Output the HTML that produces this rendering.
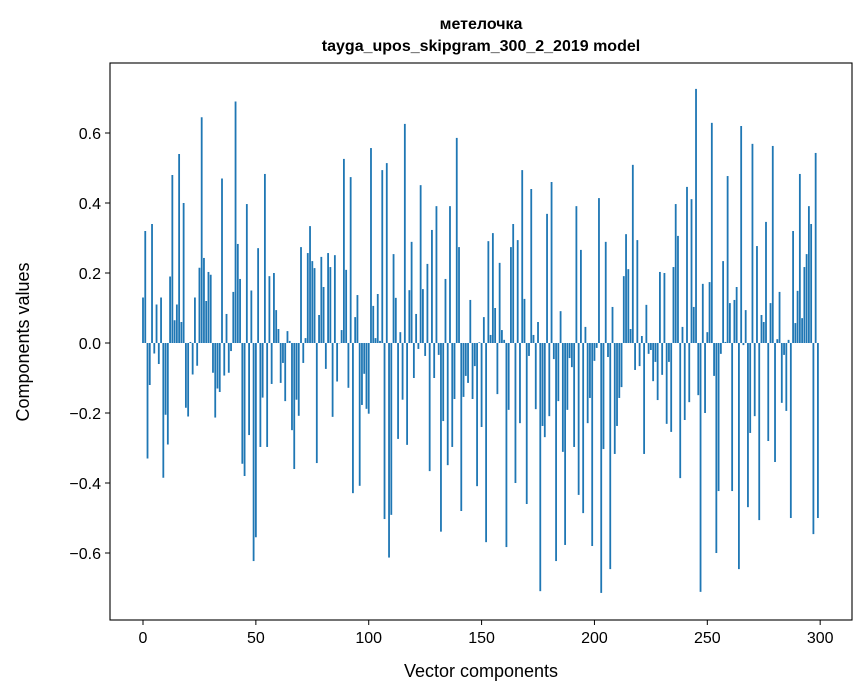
<!DOCTYPE html>
<html><head><meta charset="utf-8"><style>
body{margin:0;background:#fff;}
svg{display:block;font-family:"Liberation Sans","DejaVu Sans",sans-serif;}
</style></head><body>
<svg id="chart" width="867" height="696" viewBox="0 0 867 696" xmlns="http://www.w3.org/2000/svg">
<rect width="867" height="696" fill="#fff"/>
<text x="481" y="29" text-anchor="middle" font-size="16" font-weight="bold">метелочка</text>
<text x="481" y="51" text-anchor="middle" font-size="16" font-weight="bold">tayga_upos_skipgram_300_2_2019 model</text>
<g id="bars"></g>
<g id="axes"></g>
<text x="481" y="677" text-anchor="middle" font-size="18">Vector components</text>
<text transform="translate(29,342) rotate(-90)" text-anchor="middle" font-size="18">Components values</text>
</svg>
<script>
const values = [0.13,0.32,-0.33,-0.12,0.34,-0.03,0.11,-0.06,0.13,-0.385,
-0.205,-0.29,0.19,0.48,0.065,0.11,0.54,0.06,0.40,-0.185,
-0.21,0.003,-0.09,0.13,-0.065,0.215,0.645,0.243,0.12,0.203,
0.195,-0.085,-0.213,-0.13,-0.14,0.47,-0.093,0.083,-0.085,-0.023,
0.146,0.69,0.283,0.183,-0.345,-0.38,0.397,-0.263,0.15,-0.623,
-0.555,0.271,-0.297,-0.156,0.483,-0.297,0.191,-0.117,0.2,0.094,
0.04,-0.114,-0.057,-0.166,0.034,0.006,-0.249,-0.36,-0.162,-0.208,
0.274,-0.057,0.014,0.257,0.334,0.234,0.214,-0.343,0.08,0.246,
0.16,-0.074,0.257,0.217,-0.211,0.251,-0.11,0.0,0.037,0.526,
0.209,-0.128,0.474,-0.429,0.074,0.137,-0.408,-0.177,-0.088,-0.188,
-0.202,0.557,0.106,0.014,0.14,0.006,0.494,-0.503,0.514,-0.613,
-0.491,0.254,0.129,-0.274,0.031,-0.162,0.626,-0.291,0.151,0.289,
-0.1,0.083,-0.017,0.451,0.154,-0.037,0.226,-0.366,0.323,-0.1,
0.391,-0.034,-0.539,-0.223,0.183,-0.349,0.391,-0.297,-0.16,0.586,
0.274,-0.48,-0.154,-0.094,-0.114,0.123,-0.16,-0.066,-0.409,0.002,
-0.24,0.074,-0.569,0.291,0.023,0.314,0.1,-0.146,0.229,0.037,
0.009,-0.583,-0.191,0.274,0.34,-0.4,0.294,-0.229,0.494,0.126,
-0.46,-0.037,0.44,0.023,-0.189,0.06,-0.709,-0.237,-0.269,0.369,
-0.209,0.46,-0.046,-0.623,-0.166,0.091,-0.311,-0.577,-0.191,-0.043,
-0.069,-0.297,0.391,-0.434,0.266,-0.486,0.046,-0.229,-0.157,-0.58,
-0.051,-0.014,0.414,-0.714,-0.303,0.289,-0.04,-0.646,0.103,-0.317,
-0.237,-0.157,-0.126,0.191,0.311,0.211,0.04,0.509,-0.077,0.294,
-0.066,0.02,-0.317,0.109,-0.031,-0.02,-0.109,-0.054,-0.163,0.203,
-0.091,0.2,-0.231,-0.054,-0.254,0.217,0.397,0.306,-0.386,0.046,
-0.22,0.446,-0.169,0.411,0.103,0.726,-0.149,-0.711,0.169,-0.2,
0.031,0.174,0.629,-0.094,-0.6,-0.423,-0.031,0.234,0.003,0.477,
0.114,-0.423,0.123,0.16,-0.646,0.62,-0.006,0.094,-0.469,-0.257,
0.569,-0.209,0.277,-0.506,0.08,0.06,0.346,-0.28,0.114,0.563,
-0.34,0.011,0.146,-0.171,-0.034,-0.194,0.009,-0.5,0.32,0.057,
0.149,0.483,0.071,0.217,0.254,0.391,0.34,-0.546,0.543,-0.5];
const xTicks = [0,50,100,150,200,250,300];
const yTicks = [-0.6,-0.4,-0.2,0,0.2,0.4,0.6];

const L=110,R=852,T=63,B=620;
const xMin=-14.62,xMax=314.1,yMin=-0.7914,yMax=0.8;
function sx(v){return L+(v-xMin)/(xMax-xMin)*(R-L);}
function sy(v){return T+(yMax-v)/(yMax-yMin)*(B-T);}
const NS="http://www.w3.org/2000/svg";
const bars=document.getElementById('bars');
const axes=document.getElementById('axes');
const bw=(sx(1)-sx(0))*0.8;
values.forEach((v,i)=>{
  const r=document.createElementNS(NS,'rect');
  
  
  const y0=sy(0),y1=sy(v);
  r.setAttribute('x',sx(i)-bw/2);
  r.setAttribute('width',bw);
  r.setAttribute('y',Math.min(y0,y1));
  r.setAttribute('height',Math.max(Math.abs(y1-y0),0.3));
  r.setAttribute('fill','#1f77b4');
  bars.appendChild(r);
});
const frame=document.createElementNS(NS,'rect');


frame.setAttribute('x',L);frame.setAttribute('y',T);
frame.setAttribute('width',R-L);frame.setAttribute('height',B-T);
frame.setAttribute('fill','none');frame.setAttribute('stroke','#000');frame.setAttribute('stroke-width','1.1');
axes.appendChild(frame);
xTicks.forEach(t=>{
  const x=sx(t);
  const l=document.createElementNS(NS,'line');
  
  
  l.setAttribute('x1',x);l.setAttribute('x2',x);l.setAttribute('y1',B);l.setAttribute('y2',B+5);
  l.setAttribute('stroke','#000');
  axes.appendChild(l);
  const tx=document.createElementNS(NS,'text');
  
  
  tx.setAttribute('x',x);tx.setAttribute('y',B+23);
  tx.setAttribute('text-anchor','middle');tx.setAttribute('font-size','16');
  tx.textContent=String(t);
  axes.appendChild(tx);
});
yTicks.forEach(t=>{
  const y=sy(t);
  const l=document.createElementNS(NS,'line');
  
  
  l.setAttribute('x1',L-5);l.setAttribute('x2',L);l.setAttribute('y1',y);l.setAttribute('y2',y);
  l.setAttribute('stroke','#000');
  axes.appendChild(l);
  const tx=document.createElementNS(NS,'text');
  
  
  tx.setAttribute('x',L-9);tx.setAttribute('y',y+6);
  tx.setAttribute('text-anchor','end');tx.setAttribute('font-size','16');
  tx.textContent=(t<0?'\u2212':'')+Math.abs(t).toFixed(1);
  axes.appendChild(tx);
});
</script>
</body></html>
